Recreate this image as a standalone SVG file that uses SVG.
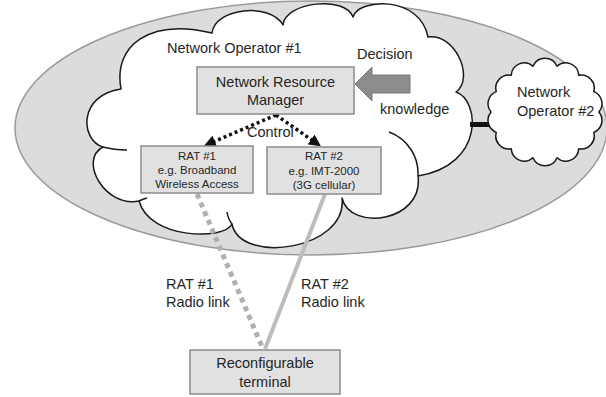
<svg xmlns="http://www.w3.org/2000/svg" width="606" height="397" viewBox="0 0 606 397">
  <style>
    .lbl { font-family: "Liberation Sans", Arial, sans-serif; font-size: 14.5px; fill: #262626; }
    .sm { font-family: "Liberation Sans", Arial, sans-serif; font-size: 11.5px; fill: #262626; text-anchor: middle; }
    .mid { text-anchor: middle; }
    .box { fill: #e1e1e2; stroke: #8c8c8c; stroke-width: 1.5; }
    .cloud { fill: #ffffff; stroke: #1a1a1a; stroke-width: 1.5; stroke-linejoin: round; }
    .inner { fill: none; stroke: #1a1a1a; stroke-width: 1.5; }
    .ctrl { fill: none; stroke: #111; stroke-width: 3.5; stroke-dasharray: 3 3; }
  </style>
  <defs>
    <marker id="ah" markerUnits="userSpaceOnUse" markerWidth="12" markerHeight="12" viewBox="0 0 10 10" refX="8" refY="5" orient="auto">
      <path d="M0,0 L10,5 L0,10 Z" fill="#111"/>
    </marker>
  </defs>

  <g id="operator-domain">
    <ellipse cx="311" cy="128" rx="296" ry="127" fill="#dcdcde" stroke="#9a9a9a" stroke-width="1.5"/>
  </g>

  <g id="network-operator-1">
    <path class="cloud" d="M103,147 C80,140 78,95 121,89 C113,45 150,18 212,33 C215,8 270,2 283,25 C285,2 345,-5 353,17 C358,-2 420,-5 428,37 C455,33 475,78 456,92 C480,100 485,165 418,176 C424,222 350,232 342,198 C348,250 240,265 232,224 C225,240 150,240 139,201 C105,208 78,160 103,147 Z"/>
    <path class="inner" d="M103,147 Q114,150 127,150 M418,176 C419,157 408,139 389,132 M232,224 Q228,219 227,212 M139,201 Q143,199 147,198"/>
    <text class="lbl" x="167" y="53">Network Operator #1</text>
  </g>

  <g id="network-operator-2">
    <path class="cloud" d="M599,112 A13,13 0 0 1 593.7,132.4 A13,13 0 0 1 578.7,148.8 A13,13 0 0 1 557,157.8 A13,13 0 0 1 533,157.8 A13,13 0 0 1 511.3,148.8 A13,13 0 0 1 496.3,132.4 A13,13 0 0 1 491,112 A13,13 0 0 1 496.3,91.6 A13,13 0 0 1 511.3,75.2 A13,13 0 0 1 533,66.2 A13,13 0 0 1 557,66.2 A13,13 0 0 1 578.7,75.2 A13,13 0 0 1 593.7,91.6 A13,13 0 0 1 599,112 Z"/>
    <text class="lbl" x="517" y="97">Network</text>
    <text class="lbl" x="517" y="115.5">Operator #2</text>
  </g>

  <g id="connectors">
    <line x1="470" y1="124.5" x2="489" y2="124.5" stroke="#111" stroke-width="5"/>
    <path class="ctrl" d="M276,115 L206,145" marker-end="url(#ah)"/>
    <path class="ctrl" d="M276,115 L319,145" marker-end="url(#ah)"/>
    <line x1="197" y1="194" x2="263" y2="349" stroke="#b0b0b0" stroke-width="5" stroke-dasharray="5 4.4"/>
    <line x1="325" y1="194" x2="265" y2="349" stroke="#bdbdbd" stroke-width="4"/>
    <text class="lbl" x="247" y="137">Control</text>
    <text class="lbl" x="166" y="289">RAT #1</text>
    <text class="lbl" x="166" y="307">Radio link</text>
    <text class="lbl" x="301" y="289">RAT #2</text>
    <text class="lbl" x="301" y="307">Radio link</text>
  </g>

  <g id="knowledge-input">
    <polygon points="355,84 372,67 372,75 410,75 410,93 372,93 372,101" fill="#8c8c8c" stroke="#7a7a7a" stroke-width="1"/>
    <text class="lbl" x="357" y="59">Decision</text>
    <text class="lbl" x="380" y="113.5">knowledge</text>
  </g>

  <g id="nrm">
    <rect class="box" x="197" y="67" width="157" height="47"/>
    <text class="lbl mid" x="275.5" y="87">Network Resource</text>
    <text class="lbl mid" x="275.5" y="105">Manager</text>
  </g>

  <g id="rat1">
    <rect class="box" x="141" y="146" width="112" height="47"/>
    <text class="sm" x="197" y="159.5">RAT #1</text>
    <text class="sm" x="197" y="174">e.g. Broadband</text>
    <text class="sm" x="197" y="188">Wireless Access</text>
  </g>

  <g id="rat2">
    <rect class="box" x="267" y="147" width="114" height="47"/>
    <text class="sm" x="324" y="160">RAT #2</text>
    <text class="sm" x="324" y="174.5">e.g. IMT-2000</text>
    <text class="sm" x="324" y="188.5">(3G cellular)</text>
  </g>

  <g id="terminal">
    <rect class="box" x="190" y="350" width="150" height="44"/>
    <text class="lbl mid" x="265" y="368">Reconfigurable</text>
    <text class="lbl mid" x="265" y="387">terminal</text>
  </g>
</svg>
